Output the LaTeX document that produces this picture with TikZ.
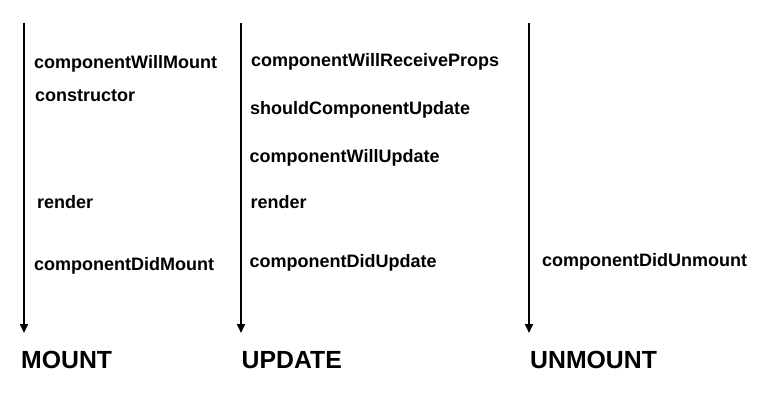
\documentclass[tikz,border=0pt]{standalone}
\usepackage{fontspec}
\setmainfont{Liberation Sans}
\usetikzlibrary{arrows.meta}

\begin{document}
\begin{tikzpicture}[x=1pt,y=-1pt,line cap=butt]
  % Styles
  \tikzset{
    phase/.style={line width=1.8pt,-{Triangle[length=9pt,width=8pt]}},
    hook/.style={anchor=base west,inner sep=0pt,font=\fontsize{18}{21}\selectfont\bfseries},
    stage/.style={anchor=base west,inner sep=0pt,font=\fontsize{24.8}{28}\selectfont\bfseries}
  }

  \useasboundingbox (0,0) rectangle (773,416);

  % Timelines
  \coordinate (mtop) at (24,22.5);   \coordinate (mbot) at (24,333);
  \coordinate (utop) at (241,22.5);  \coordinate (ubot) at (241,333);
  \coordinate (xtop) at (529,22.5);  \coordinate (xbot) at (529,333);
  \draw[phase] (mtop) -- (mbot);
  \draw[phase] (utop) -- (ubot);
  \draw[phase] (xtop) -- (xbot);

  % Mount hooks
  \node[hook] (willmount) at (34,68.5) {componentWillMount};
  \node[hook] (ctor) at (35,101) {constructor};
  \node[hook] (mrender) at (37,208.5) {render};
  \node[hook] (didmount) at (34,270) {componentDidMount};

  % Update hooks
  \node[hook] (willprops) at (251,66) {componentWillReceiveProps};
  \node[hook] (shouldupd) at (250,114) {shouldComponentUpdate};
  \node[hook] (willupd) at (249.5,162) {componentWillUpdate};
  \node[hook] (urender) at (250.5,208.5) {render};
  \node[hook] (didupd) at (249.5,267.5) {componentDidUpdate};

  % Unmount hooks
  \node[hook] (didunmount) at (542,266.5) {componentDidUnmount};

  % Stage names
  \node[stage] (mount) at (21,368.5) {MOUNT};
  \node[stage] (update) at (241.5,368.5) {UPDATE};
  \node[stage] (unmount) at (530,368.5) {UNMOUNT};
\end{tikzpicture}
\end{document}
